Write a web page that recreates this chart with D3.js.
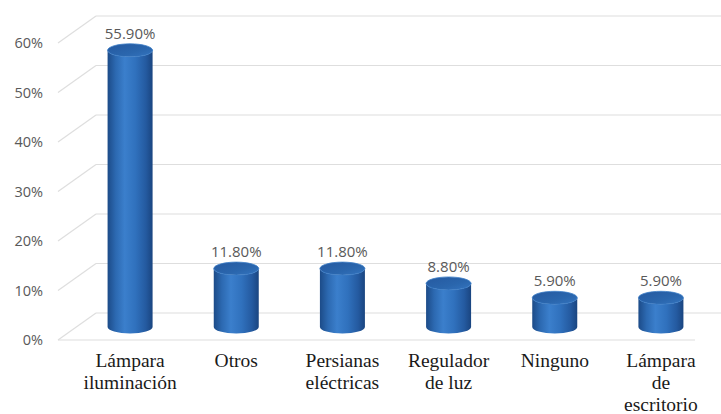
<!DOCTYPE html>
<html>
<head>
<meta charset="utf-8">
<script src="https://cdn.jsdelivr.net/npm/d3@7/dist/d3.min.js"></script>
<style>
  html, body { margin: 0; padding: 0; background: #ffffff; }
  svg { display: block; }
  .cat { font-family: "Liberation Serif", "Times New Roman", serif; }
</style>
</head>
<body>
<script>
// Chart data
const categories = ["Lámpara\niluminación", "Otros", "Persianas\neléctricas", "Regulador\nde luz", "Ninguno", "Lámpara\nde\nescritorio"];
const values = [55.9, 11.8, 11.8, 8.8, 5.9, 5.9];
const tickValues = [0, 10, 20, 30, 40, 50, 60];
const tickLabels = ["0%", "10%", "20%", "30%", "40%", "50%", "60%"];

const W = 721, H = 414;
const svg = d3.select("body").append("svg").attr("width", W).attr("height", H);

// Front plane of the 3D box, plus depth offsets for the back wall and bar row
const floorLeft = 58, floorRight = 695;
const depth = { dx: 38, dy: -27 };
const mid = { dx: 19, dy: -13 };

const y = d3.scaleLinear().domain([0, 60]).range([340, 43]);
const x = d3.scaleBand().domain(d3.range(categories.length)).range([floorLeft, floorRight]);

const defs = svg.append("defs");
const sideGrad = defs.append("linearGradient").attr("id", "cylSide").attr("x1", 0).attr("x2", 1).attr("y1", 0).attr("y2", 0);
[[0, "#1c4b88"], [0.18, "#2c69b1"], [0.38, "#3b7fcc"], [0.62, "#3071bd"], [0.85, "#245aa0"], [1, "#1a4580"]]
  .forEach(([o, c]) => sideGrad.append("stop").attr("offset", o).attr("stop-color", c));
const capGrad = defs.append("linearGradient").attr("id", "cylTop").attr("x1", 0).attr("x2", 1).attr("y1", 0).attr("y2", 1);
[[0, "#2559a0"], [0.6, "#2a66ad"], [1, "#3474bf"]]
  .forEach(([o, c]) => capGrad.append("stop").attr("offset", o).attr("stop-color", c));

// Gridlines: side-wall diagonals and back-wall horizontals
const grid = svg.append("g").attr("stroke", "#dedede").attr("stroke-width", 1.2).attr("fill", "none");
tickValues.forEach(t => {
  const yf = y(t), yb = y(t) + depth.dy;
  grid.append("line").attr("x1", floorLeft).attr("y1", yf).attr("x2", floorLeft + depth.dx).attr("y2", yb);
  grid.append("line").attr("x1", floorLeft + depth.dx).attr("y1", yb).attr("x2", W).attr("y2", yb);
});
// Floor front edge
grid.append("line").attr("x1", floorLeft).attr("y1", y(0)).attr("x2", floorRight).attr("y2", y(0));

// Y axis labels
svg.append("g").selectAll("text").data(tickValues).join("text")
  .attr("x", 43).attr("y", d => y(d)).attr("dy", "0.35em")
  .attr("text-anchor", "end")
  .attr("font-family", "'Open Sans', sans-serif").attr("font-size", 14.5)
  .attr("fill", "#595959")
  .text((d, i) => tickLabels[i]);

// Cylinders
const rx = 22.5, ry = 6.5;
const bars = svg.append("g");
values.forEach((v, i) => {
  const cx = x(i) + x.bandwidth() / 2 + mid.dx;
  const yb = y(0) + mid.dy;
  const yt = y(v) + mid.dy;
  bars.append("path")
    .attr("d", `M${cx - rx},${yt} L${cx - rx},${yb} A${rx},${ry} 0 0 0 ${cx + rx},${yb} L${cx + rx},${yt} A${rx},${ry} 0 0 1 ${cx - rx},${yt} Z`)
    .attr("fill", "url(#cylSide)");
  bars.append("ellipse")
    .attr("cx", cx).attr("cy", yt).attr("rx", rx).attr("ry", ry)
    .attr("fill", "url(#cylTop)")
    .attr("stroke", "#3c7dc6").attr("stroke-width", 0.8);
  svg.append("text")
    .attr("x", cx).attr("y", yt - ry - 5)
    .attr("text-anchor", "middle")
    .attr("font-family", "'Open Sans', sans-serif").attr("font-size", 15)
    .attr("fill", "#595959")
    .text(v.toFixed(2) + "%");
});

// Category labels
const catG = svg.append("g");
categories.forEach((c, i) => {
  const cx = x(i) + x.bandwidth() / 2 + mid.dx;
  const t = catG.append("text")
    .attr("class", "cat")
    .attr("text-anchor", "middle")
    .attr("font-size", 19.5)
    .attr("fill", "#1a1a1a");
  c.split("\n").forEach((line, j) => {
    t.append("tspan").attr("x", cx).attr("y", 367 + j * 22).text(line);
  });
});
</script>
</body>
</html>
